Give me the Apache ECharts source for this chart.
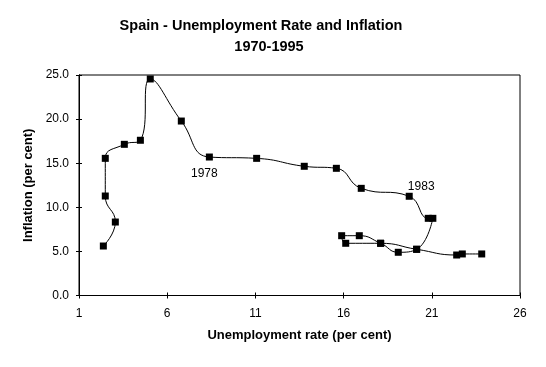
<!DOCTYPE html>
<html>
<head>
<meta charset="utf-8">
<script src="https://cdn.jsdelivr.net/npm/echarts@6/dist/echarts.min.js"></script>
<style>html,body{margin:0;padding:0;background:#fff}#c{width:546px;height:367px}</style>
</head>
<body>
<div id="c"></div>
<script>
// Data (unemployment %, inflation %), in time order
var unemployment = [2.38, 3.06, 2.49, 2.49, 3.57, 4.48, 5.04, 6.80, 8.39, 11.07,
  13.77, 15.59, 17.00, 19.72, 20.80, 21.06, 20.14, 19.10, 18.10, 16.89,
  15.89, 16.12, 18.10, 20.14, 22.41, 22.73, 23.83];
var inflation = [5.61, 8.33, 11.28, 15.55, 17.14, 17.60, 24.55, 19.78, 15.70, 15.55,
  14.65, 14.42, 12.15, 11.25, 8.75, 8.75, 5.24, 4.90, 5.92, 6.78,
  6.78, 5.92, 5.92, 5.24, 4.59, 4.71, 4.71];
var pointLabels = [{ index: 8, text: '1978', dx: -5, dy: 17 }, { index: 13, text: '1983', dx: 12, dy: -10 }];
var xTicks = { min: 1, max: 26, interval: 5 };
var yTicks = { min: 0, max: 25, interval: 5 };

var font = 'Liberation Sans, Arial, sans-serif';
var data = unemployment.map(function (u, i) {
  var item = { value: [u, inflation[i]] };
  pointLabels.forEach(function (p) {
    if (p.index === i) {
      item.label = { show: true, position: 'inside', offset: [p.dx, p.dy], formatter: p.text,
        color: '#000', fontSize: 12, fontFamily: font };
    }
  });
  return item;
});

var chart = echarts.init(document.getElementById('c'), null, { renderer: 'canvas' });
var axisBase = {
  axisLine: { show: true, lineStyle: { color: '#000', width: 1 } },
  splitLine: { show: false }
};
chart.setOption({
  animation: false,
  backgroundColor: '#fff',
  title: [
    { text: 'Spain - Unemployment Rate and Inflation', left: 261, top: 18, textAlign: 'center', padding: 0,
      textStyle: { fontFamily: font, fontSize: 14.5, fontWeight: 'bold', color: '#000' } },
    { text: '1970-1995', left: 269, top: 39, textAlign: 'center', padding: 0,
      textStyle: { fontFamily: font, fontSize: 14.5, fontWeight: 'bold', color: '#000' } }
  ],
  grid: { left: 79, top: 75, right: 26, bottom: 71.5, show: true, borderColor: '#000', borderWidth: 1, backgroundColor: 'transparent' },
  xAxis: [
    Object.assign({}, axisBase, {
      type: 'value', position: 'bottom', min: xTicks.min, max: xTicks.max, interval: xTicks.interval,
      name: 'Unemployment rate (per cent)', nameLocation: 'middle', nameGap: 33,
      nameTextStyle: { fontFamily: font, fontSize: 13, fontWeight: 'bold', color: '#000' },
      axisTick: { show: true, inside: false, length: 3, lineStyle: { color: '#000' } },
      axisLabel: { fontFamily: font, fontSize: 12, color: '#000', margin: 12 }
    }),
    Object.assign({}, axisBase, {
      type: 'value', position: 'bottom', min: xTicks.min, max: xTicks.max, interval: xTicks.interval,
      axisTick: { show: true, inside: true, length: 3, lineStyle: { color: '#000' } },
      axisLabel: { show: false }
    })
  ],
  yAxis: [
    Object.assign({}, axisBase, {
      type: 'value', position: 'left', min: yTicks.min, max: yTicks.max, interval: yTicks.interval,
      name: 'Inflation (per cent)', nameLocation: 'middle', nameGap: 41,
      nameTextStyle: { fontFamily: font, fontSize: 13, fontWeight: 'bold', color: '#000' },
      axisTick: { show: true, inside: false, length: 3, lineStyle: { color: '#000' } },
      axisLabel: { fontFamily: font, fontSize: 12, color: '#000', margin: 10,
        formatter: function (v) { return v.toFixed(1); } }
    }),
    Object.assign({}, axisBase, {
      type: 'value', position: 'left', min: yTicks.min, max: yTicks.max, interval: yTicks.interval,
      axisTick: { show: true, inside: true, length: 3, lineStyle: { color: '#000' } },
      axisLabel: { show: false }
    })
  ],
  series: [{
    type: 'line',
    xAxisIndex: 0, yAxisIndex: 0,
    data: data,
    smooth: 0.5,
    symbol: 'rect',
    symbolSize: 7,
    itemStyle: { color: '#000' },
    lineStyle: { color: '#000', width: 1 }
  }]
});
</script>
</body>
</html>
